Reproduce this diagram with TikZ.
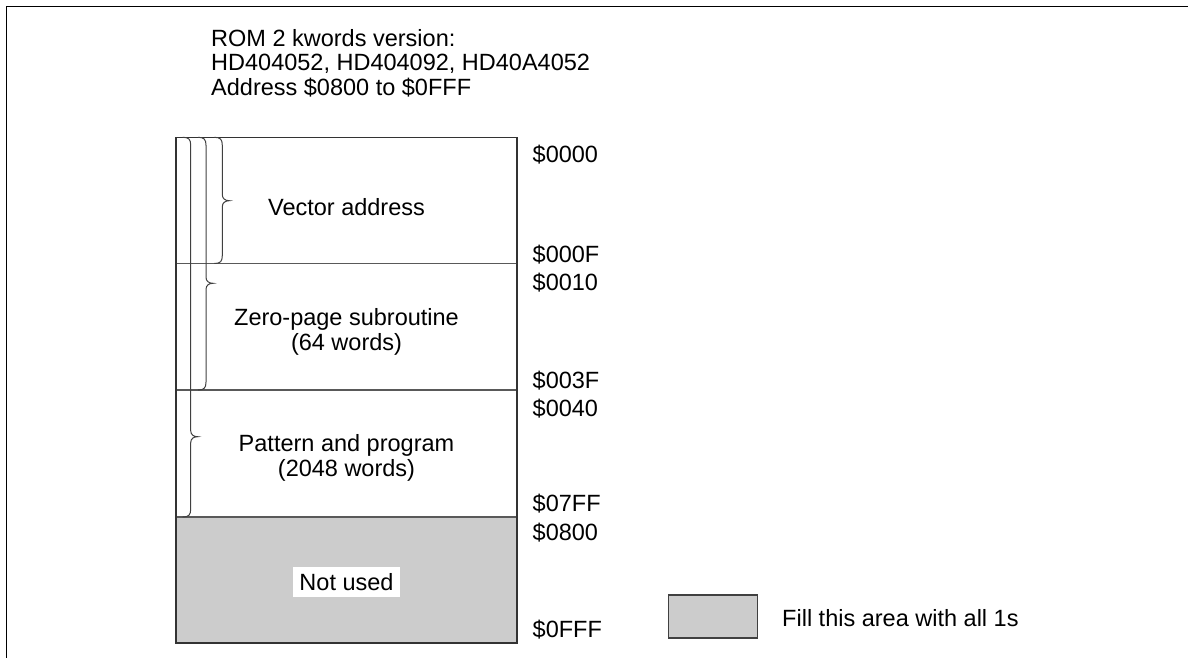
\documentclass[tikz,border=0pt]{standalone}
\usepackage{fontspec}
\setmainfont{Liberation Sans}
\begin{document}
\begin{tikzpicture}[x=1pt,y=-1pt,
  lbl/.style={inner sep=0pt,font=\fontsize{23.5}{25}\selectfont},
  boxline/.style={draw=black!80,line width=1.3pt},
  divline/.style={draw=black!65,line width=1.1pt},
  bracestyle/.style={draw=black!75,line width=1pt},
  frameline/.style={draw=black,line width=1.3pt}]
\useasboundingbox (0,0) rectangle (1188,658);
% frame
\draw[frameline] (6.5,658) -- (6.5,6.3) -- (1188,6.3);
% title
\node[lbl,anchor=base west] (t1) at (211,46.5) {ROM 2 kwords version:};
\node[lbl,anchor=base west] (t2) at (211,71) {HD404052, HD404092, HD40A4052};
\node[lbl,anchor=base west] (t3) at (211,95.5) {Address \$0800 to \$0FFF};
% memory map
\fill[black!20] (176,517) rectangle (517,643);
\draw[divline] (176,263.5) -- (517,263.5);
\draw[divline] (176,390) -- (517,390);
\draw[divline] (176,517) -- (517,517);
\draw[boxline] (176,137.3) rectangle (517,643);
% braces
\foreach \v/\yt/\yb in {222.3/200.7/263.5, 206/283.3/390, 190.7/436.7/517}{
  \draw[bracestyle] (\v-8,137.3) .. controls (\v-2,137.3) and (\v,139.3) .. (\v,145.3)
    -- (\v,\yt-6) .. controls (\v,\yt-2) and (\v+3,\yt) .. (\v+7,\yt)
    .. controls (\v+3,\yt) and (\v,\yt+2) .. (\v,\yt+6)
    -- (\v,\yb-8) .. controls (\v,\yb-2) and (\v-2,\yb) .. (\v-8,\yb);
}
% section labels
\node[lbl,anchor=base] (va) at (346.5,215) {Vector address};
\node[lbl,anchor=base] (zp1) at (346.5,325) {Zero-page subroutine};
\node[lbl,anchor=base] (zp2) at (346.5,350) {(64 words)};
\node[lbl,anchor=base] (pp1) at (346.5,451) {Pattern and program};
\node[lbl,anchor=base] (pp2) at (346.5,476) {(2048 words)};
\node[lbl,anchor=base,fill=white,inner xsep=6.5pt,inner ysep=6pt,text height=17pt,text depth=0.7pt] (nu) at (346.5,590) {Not used};
% addresses
\node[lbl,anchor=base west] (a0) at (532.5,162) {\$0000};
\node[lbl,anchor=base west] (a1) at (532.5,262) {\$000F};
\node[lbl,anchor=base west] (a2) at (532.5,290) {\$0010};
\node[lbl,anchor=base west] (a3) at (532.5,388) {\$003F};
\node[lbl,anchor=base west] (a4) at (532.5,416) {\$0040};
\node[lbl,anchor=base west] (a5) at (532.5,511.7) {\$07FF};
\node[lbl,anchor=base west] (a6) at (532.5,540) {\$0800};
\node[lbl,anchor=base west] (a7) at (532.5,637) {\$0FFF};
% legend
\draw[draw=black!75,line width=1.1pt,fill=black!20] (668.5,595) rectangle (757.5,638);
\node[lbl,anchor=base west] (leg) at (782,626.7) {Fill this area with all 1s};
\end{tikzpicture}
\end{document}
